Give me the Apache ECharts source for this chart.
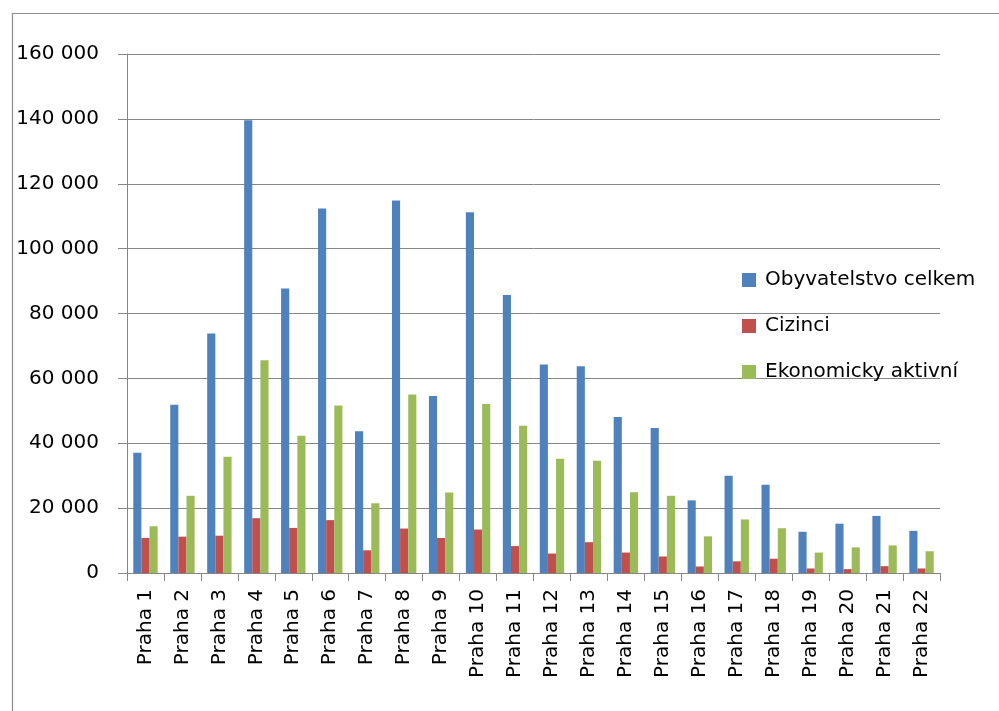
<!DOCTYPE html>
<html>
<head>
<meta charset="utf-8">
<script src="https://cdn.jsdelivr.net/npm/echarts@6/dist/echarts.min.js"></script>
<style>html,body{margin:0;padding:0;background:#fff}#c{width:999px;height:711px}</style>
</head>
<body>
<div id="c"></div>
<script>
var categories = ['Praha 1','Praha 2','Praha 3','Praha 4','Praha 5','Praha 6','Praha 7','Praha 8','Praha 9','Praha 10','Praha 11','Praha 12','Praha 13','Praha 14','Praha 15','Praha 16','Praha 17','Praha 18','Praha 19','Praha 20','Praha 21','Praha 22'];
var obyvatelstvo = [37100, 51900, 73800, 139600, 87700, 112400, 43700, 114800, 54600, 111200, 85700, 64300, 63700, 48100, 44700, 22400, 30000, 27200, 12700, 15200, 17600, 13000];
var cizinci = [10800, 11200, 11500, 16900, 13900, 16300, 7000, 13700, 10800, 13400, 8300, 6000, 9500, 6300, 5100, 2000, 3600, 4400, 1400, 1200, 2100, 1400];
var ekonomicky = [14400, 23800, 35800, 65600, 42300, 51600, 21500, 55000, 24800, 52100, 45400, 35200, 34600, 24900, 23800, 11300, 16500, 13800, 6300, 7900, 8500, 6700];
var yTicks = [0, 20000, 40000, 60000, 80000, 100000, 120000, 140000, 160000];
var seriesNames = ['Obyvatelstvo celkem', 'Cizinci', 'Ekonomicky aktivní'];

var chart = echarts.init(document.getElementById('c'), null, {renderer: 'canvas'});
var font = 'DejaVu Sans';
function fmt(v) { return String(v).replace(/\B(?=(\d{3})+(?!\d))/g, ' '); }
chart.setOption({
  animation: false,
  backgroundColor: '#fff',
  color: ['#4f81bd', '#c0504d', '#9bbb59'],
  graphic: [{
    type: 'rect', left: 10, top: 11, silent: true,
    shape: {x: 0, y: 0, width: 1000, height: 720},
    style: {fill: 'none', stroke: '#8c8c8c', lineWidth: 1.2}
  }],
  grid: {left: 127, right: 59, top: 54, bottom: 138, containLabel: false},
  legend: {
    orient: 'vertical', left: 737, top: 265, itemWidth: 14, itemHeight: 14, itemGap: 26,
    icon: 'rect',
    textStyle: {fontFamily: font, fontSize: 20, color: '#000', padding: [0, 0, 0, 4]},
    data: seriesNames
  },
  xAxis: {
    type: 'category', data: categories,
    axisLine: {lineStyle: {color: '#868686', width: 1}},
    axisTick: {show: true, length: 8, lineStyle: {color: '#868686'}},
    axisLabel: {rotate: 90, margin: 16, fontFamily: font, fontSize: 20, color: '#000', interval: 0}
  },
  yAxis: {
    type: 'value', min: 0, max: 160000, interval: 20000,
    axisLine: {show: true, lineStyle: {color: '#868686', width: 1}},
    axisTick: {show: true, length: 9, lineStyle: {color: '#868686'}},
    splitLine: {lineStyle: {color: '#868686', width: 1}},
    axisLabel: {margin: 28, fontFamily: font, fontSize: 20, color: '#000', formatter: function(v){ return fmt(v); }}
  },
  series: [
    {name: seriesNames[0], type: 'bar', data: obyvatelstvo, barGap: '0%', barCategoryGap: '34%'},
    {name: seriesNames[1], type: 'bar', data: cizinci, barGap: '0%', barCategoryGap: '34%'},
    {name: seriesNames[2], type: 'bar', data: ekonomicky, barGap: '0%', barCategoryGap: '34%'}
  ]
});
</script>
</body>
</html>
